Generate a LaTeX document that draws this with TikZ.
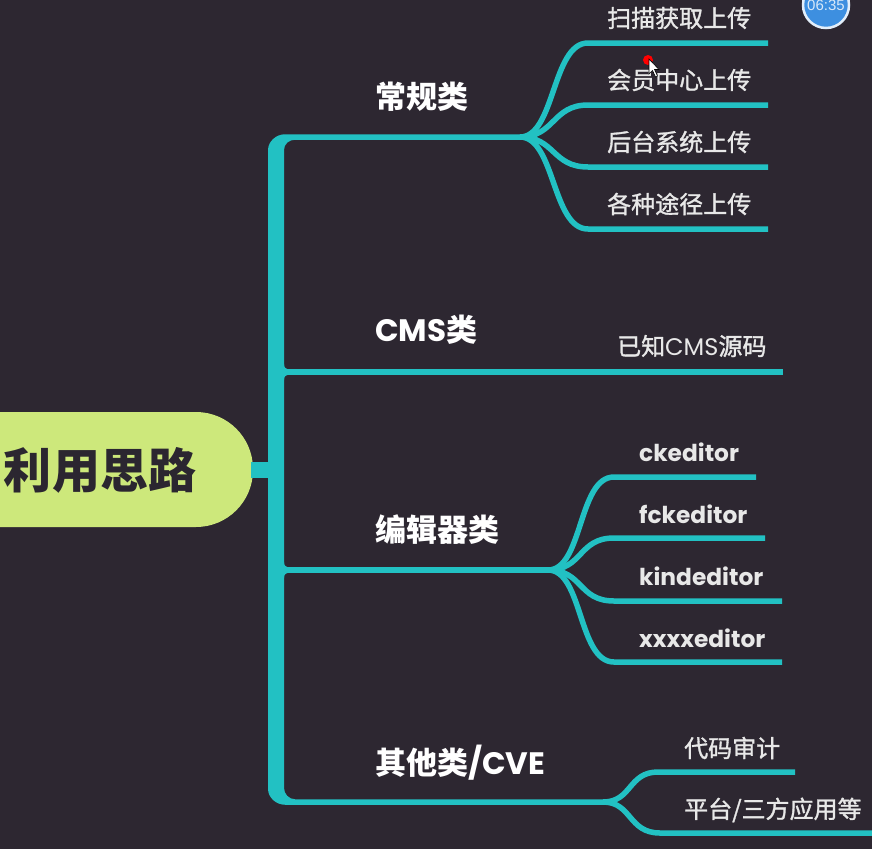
\documentclass[tikz,border=0pt]{standalone}
\usepackage{fontspec}
\newfontfamily\cjk{Noto Sans CJK SC}
\newfontfamily\cjkm[FakeBold=1.3]{Noto Sans CJK SC}
\newfontfamily\lat{Poppins}
\newfontfamily\clk{Liberation Sans}
\definecolor{bg}{HTML}{2D2731}
\definecolor{tealc}{HTML}{22C1C3}
\definecolor{rootg}{HTML}{CDE87B}
\definecolor{roottxt}{HTML}{2B2630}
\definecolor{txt}{HTML}{E8E8E8}
\definecolor{clockb}{HTML}{3D8FE0}
\tikzset{
  conn/.style={draw=tealc, line width=5.5, line cap=butt},
  spine/.style={draw=tealc, line width=16},
  leaf/.style={anchor=west, inner sep=0, text=txt, font=\cjkm\fontsize{24}{24}\selectfont},
  leaflat/.style={anchor=west, inner sep=0, text=txt, font=\lat\bfseries\fontsize{23.3}{23.3}\selectfont},
  cat/.style={anchor=west, inner sep=0, text=white, font=\cjk\bfseries\fontsize{31}{31}\selectfont},
}
\begin{document}
\begin{tikzpicture}[x=1pt,y=-1pt]
\useasboundingbox (0,0) rectangle (872,849);
\fill[bg] (0,0) rectangle (872,849);
\clip (0,0) rectangle (872,849);

% root
\fill[rootg, rounded corners=57] (-130,412) rectangle (253,527);
\node[inner sep=0, text=roottxt, font=\cjk\bfseries\fontsize{48}{48}\selectfont] (root) at (100,470) {利用思路};
\coordinate (rootR) at (251,470);
\coordinate (spineM) at (276,470);
\draw[spine] (rootR) -- (spineM);

% branch points
\coordinate (f1) at (520,137);
\coordinate (f2) at (783,372);
\coordinate (f3) at (548,570);
\coordinate (f4) at (603,802);

% spine with its top and bottom corners
\fill[tealc] (520,134.25) -- (285,134.25) .. controls (276.2,134.25) and (268,141.4) .. (268,150.25)
  -- (268,788.75) .. controls (268,797.6) and (276.2,804.75) .. (285,804.75) -- (603,804.75)
  -- (603,799.25) -- (295,799.25) .. controls (289,799.25) and (284,794) .. (284,788)
  -- (284,150) .. controls (284,144) and (289,139.75) .. (295,139.75) -- (520,139.75) -- cycle;
\draw[conn] (276,372) -- (f2);
\draw[conn] (276,570) -- (f3);
% small fillets at the middle junctions
\foreach \y in {372,570}{
  \fill[tealc] (284,\y-8) .. controls (284,\y-4) and (286,\y-2.75) .. (290,\y-2.75) -- (284,\y-2.75) -- cycle;
  \fill[tealc] (284,\y+8) .. controls (284,\y+4) and (286,\y+2.75) .. (290,\y+2.75) -- (284,\y+2.75) -- cycle;
}

% category labels
\node[cat] (k1) at (375,97) {常规类};
\node[cat] (k2) at (375,330) {{\lat\bfseries CMS}类};
\node[cat] (k3) at (375,530) {编辑器类};
\node[cat] (k4) at (375,763) {其他类{\lat\bfseries /CVE}};

% group 1
\foreach \y/\e/\n in {43/768/a, 105/768/b, 167/768/c, 229/768/d}{
  \coordinate (s1\n) at (588,\y);
  \coordinate (e1\n) at (\e,\y);
  \draw[conn] (f1) .. controls (555,137) and (552,\y) .. (s1\n) -- (e1\n);
}
\node[leaf] (l1a) at (607,18) {扫描获取上传};
\node[leaf] (l1b) at (607,80) {会员中心上传};
\node[leaf] (l1c) at (607,142) {后台系统上传};
\node[leaf] (l1d) at (607,204) {各种途径上传};

% group 2
\node[leaf] (l2a) at (617,346) {已知{\lat CMS}源码};

% group 3
\foreach \y/\e/\n in {477/756/a, 538/765/b, 601/782/c, 662/782/d}{
  \coordinate (s3\n) at (614,\y);
  \coordinate (e3\n) at (\e,\y);
  \draw[conn] (f3) .. controls (583,570) and (578,\y) .. (s3\n) -- (e3\n);
}
\node[leaflat] (l3a) at (639,452) {ckeditor};
\node[leaflat] (l3b) at (639,514) {fckeditor};
\node[leaflat] (l3c) at (639,576) {kindeditor};
\node[leaflat] (l3d) at (639,638) {xxxxeditor};

% group 4
\coordinate (s4a) at (658,772);
\coordinate (e4a) at (795,772);
\coordinate (s4b) at (660,833);
\coordinate (e4b) at (880,833);
\draw[conn] (f4) .. controls (632,802) and (628,772) .. (s4a) -- (e4a);
\draw[conn] (f4) .. controls (632,802) and (628,833) .. (s4b) -- (e4b);
\node[leaf] (l4a) at (684,748) {代码审计};
\node[leaf] (l4b) at (684,810) {平台/三方应用等};

% overlay: clock badge and cursor
\node[circle, minimum size=46, fill=clockb, draw=white!85!clockb, line width=2.5, inner sep=0] (clock) at (826,5) {};
\node[text=white!80!clockb, font=\clk\fontsize{15}{15}\selectfont, inner sep=0] (clocktxt) at (826,5) {06:35};
\fill[red] (648,60) circle (5);
\fill[white, draw=black, line width=0.6] (649,59) -- (649,74) -- (652.5,70.5) -- (655.5,77) -- (657.5,76) -- (654.5,69.5) -- (659,69.5) -- cycle;
\end{tikzpicture}
\end{document}
